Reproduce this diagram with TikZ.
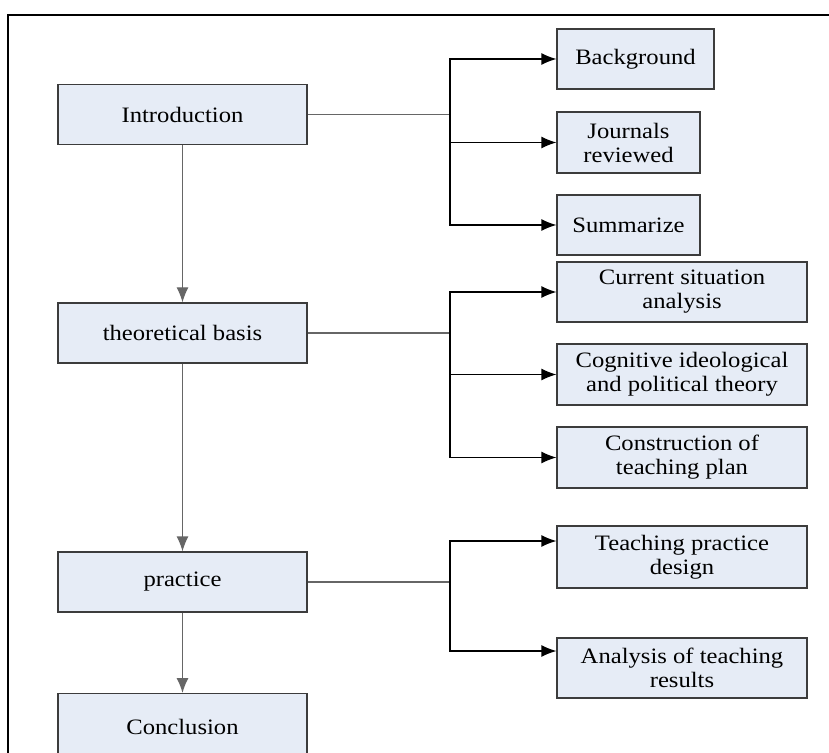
\documentclass[tikz,border=0pt]{standalone}
\usepackage{fontspec}
\setmainfont{Liberation Serif}[FakeStretch=1.12]
\usepackage{tikz}
\usetikzlibrary{arrows.meta}
\usetikzlibrary{positioning}

\definecolor{boxfill}{RGB}{230,236,246}
\definecolor{boxline}{RGB}{60,60,60}

\tikzset{
  box/.style={draw=boxline, fill=boxfill, line width=0.6pt,
    align=center, inner sep=1pt, font=\fontsize{11}{12}\selectfont},
  mainbox/.style={box, minimum width=124.5pt, minimum height=30pt},
  subbox/.style={box, minimum width=125pt, minimum height=30pt},
  trunk/.style={draw=black!60, line width=0.7pt},
  branch/.style={draw=black, line width=0.6pt, -{Latex[length=7.5pt,width=6pt]}},
}

\begin{document}
\begin{tikzpicture}[x=0.5pt,y=-0.5pt]
  \useasboundingbox (0,0) rectangle (829,753);
  \clip (0,0) rectangle (829,753);
  \draw[line width=0.6pt] (8,790) -- (8,15) -- (860,15);

  % main column
  \node[mainbox] (intro) at (182.5,114.5) {Introduction};
  \node[mainbox] (theory) at (182.5,333) {theoretical basis};
  \node[mainbox] (prac) at (182.5,582) {practice};
  \node[mainbox, minimum height=38pt, anchor=north] (concl) at (182.5,693) {\raisebox{5pt}{Conclusion}};

  % side boxes
  \node[subbox, minimum width=78.5pt] (bg) at (635.5,59) {Background};
  \node[subbox, minimum width=71.5pt, minimum height=30.5pt] (jour) at (628.5,142.5) {Journals\\reviewed};
  \node[subbox, minimum width=71.5pt] (summ) at (628.5,225) {Summarize};
  \node[subbox] (curr) at (682,292) {Current situation\\analysis};
  \node[subbox, minimum height=30.5pt] (cogn) at (682,374.5) {Cognitive ideological\\and political theory};
  \node[subbox, minimum height=30.5pt] (cons) at (682,457.5) {Construction of\\teaching plan};
  \node[subbox, minimum height=31pt] (tpd) at (682,557) {Teaching practice\\design};
  \node[subbox] (anal) at (682,668) {Analysis of teaching\\results};

  % junctions
  \coordinate (j1) at (450,114.5);
  \coordinate (j2) at (450,333);
  \coordinate (j3) at (450,582);

  \draw[trunk] (intro) -- (j1);
  \draw[trunk] (theory) -- (j2);
  \draw[trunk] (prac) -- (j3);

  \draw[branch, draw=black!60] (intro) -- (theory);
  \draw[branch, draw=black!60] (theory) -- (prac);
  \draw[branch, draw=black!60] (prac) -- (concl);

  \draw[branch] (j1) |- (bg);
  \draw[branch] (j1) |- (jour);
  \draw[branch] (j1) |- (summ);
  \draw[branch] (j2) |- (curr);
  \draw[branch] (j2) |- (cogn);
  \draw[branch] (j2) |- (cons);
  \draw[branch] (j3) |- ([yshift=8pt]tpd.west);
  \draw[branch] (j3) |- ([yshift=8.5pt]anal.west);
\end{tikzpicture}
\end{document}
